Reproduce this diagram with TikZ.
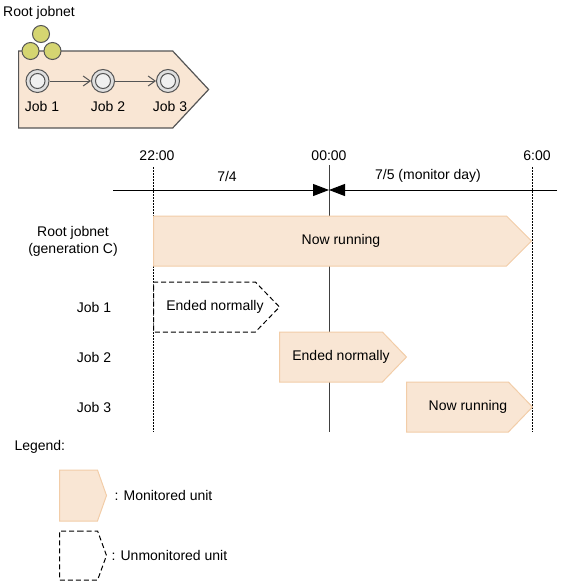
\documentclass[tikz,border=0pt]{standalone}
\usepackage{fontspec}
\setmainfont{Liberation Sans}
\usepackage{xcolor}
\definecolor{unitfill}{HTML}{F9E6D4}
\definecolor{unitline}{HTML}{F2CDA8}
\definecolor{netball}{HTML}{D5D571}
\definecolor{darkline}{HTML}{555555}
\usetikzlibrary{shapes.symbols, arrows.meta, positioning}

\begin{document}
\begin{tikzpicture}[x=1pt, y=-1pt, every node/.style={font=\fontsize{14}{17}\selectfont},
  monitored/.style={signal, signal to=east, draw=unitline, fill=unitfill, line width=1pt, inner sep=0pt, anchor=west, minimum height=50pt},
  unmonitored/.style={signal, signal to=east, draw=black, dash pattern=on 5pt off 3pt, line width=1pt, fill=white, inner sep=0pt, anchor=west, minimum height=50pt},
  netbox/.style={signal, signal to=east, draw=darkline, fill=unitfill, line width=1.2pt, inner sep=0pt, anchor=west},
  ball/.style={circle, draw=darkline, fill=netball, line width=1pt, inner sep=0pt, minimum size=17pt},
  jobring/.style={circle, draw=darkline, fill=gray!25, line width=1pt, inner sep=0pt, minimum size=23pt},
  jobcore/.style={circle, draw=darkline, fill=gray!12, line width=1pt, inner sep=0pt, minimum size=15pt},
  timemark/.style={line width=1pt, dash pattern=on 2pt off 1pt}]
  \useasboundingbox (0,0) rectangle (560,584);

  % Root jobnet icon
  \node (title) at (39,13) {Root jobnet};
  \node[netbox, minimum width=190pt, minimum height=77pt, signal pointer angle=94] (icon) at (18,89.5) {};
  \node[ball] (ball1) at (41,34) {};
  \node[ball] (ball2) at (30.5,51) {};
  \node[ball] (ball3) at (52.5,51) {};
  % Jobs inside the icon
  \node[jobring] (j1) at (37.5,81) {};
  \node[jobcore] (j1c) at (j1) {};
  \node[jobring] (j2) at (103,81) {};
  \node[jobcore] (j2c) at (j2) {};
  \node[jobring] (j3) at (168,81) {};
  \node[jobcore] (j3c) at (j3) {};
  \node (j1lbl) at (42,106) {Job 1};
  \node (j2lbl) at (108,106) {Job 2};
  \node (j3lbl) at (170,106) {Job 3};
  \draw[-{Straight Barb[length=7pt,width=10pt]}, darkline, line width=1pt] (j1) -- (j2);
  \draw[-{Straight Barb[length=7pt,width=10pt]}, darkline, line width=1pt] (j2) -- (j3);

  % Time axis
  \node (t22) at (157,156) {22:00};
  \node (t00) at (329,156) {00:00};
  \node (t06) at (537,156) {6:00};
  \node (day4) at (227,176) {7/4};
  \node (day5) at (428,176) {7/5 (monitor day)};
  \draw[timemark] (153,167) -- (153,432);
  \draw[timemark] (532,167) -- (532,432);
  \draw[line width=1pt, black!75] (329,165) -- (329,432);
  \draw[line width=1pt, -{Triangle[length=16pt,width=12pt]}] (113,190) -- (329,190);
  \draw[line width=1pt, -{Triangle[length=16pt,width=12pt]}] (557,190) -- (329,190);

  % Units
  \node[align=center] (rootlbl) at (73,241.5) {Root jobnet\\(generation C)};
  \node (job1lbl) at (94,307) {Job 1};
  \node (job2lbl) at (94,357) {Job 2};
  \node (job3lbl) at (94,407) {Job 3};
  \node[monitored, minimum width=378pt, signal pointer angle=90] (rootbar) at (153,241) {};
  \node[unmonitored, minimum width=126pt, signal pointer angle=92] (job1bar) at (153,307) {};
  \node[monitored, minimum width=127pt, signal pointer angle=92] (job2bar) at (279,357) {};
  \node[monitored, minimum width=126pt, signal pointer angle=92] (job3bar) at (406,407) {};
  \node (rootstate) at (341,241) {Now running};
  \node (job1state) at (215,307) {Ended normally};
  \node (job2state) at (341,357) {Ended normally};
  \node (job3state) at (468,407) {Now running};

  % Legend
  \node[anchor=west] (legend) at (11,447) {Legend:};
  \node[monitored, minimum width=47pt, minimum height=51pt, signal pointer angle=141] (legmon) at (59,495.5) {};
  \node[anchor=west, right=4pt of legmon] (legmontxt) {: Monitored unit};
  \node[unmonitored, minimum width=47pt, minimum height=49pt, signal pointer angle=140] (legunmon) at (59,555.5) {};
  \node[anchor=west, right=1pt of legunmon] (legunmontxt) {: Unmonitored unit};
\end{tikzpicture}
\end{document}
